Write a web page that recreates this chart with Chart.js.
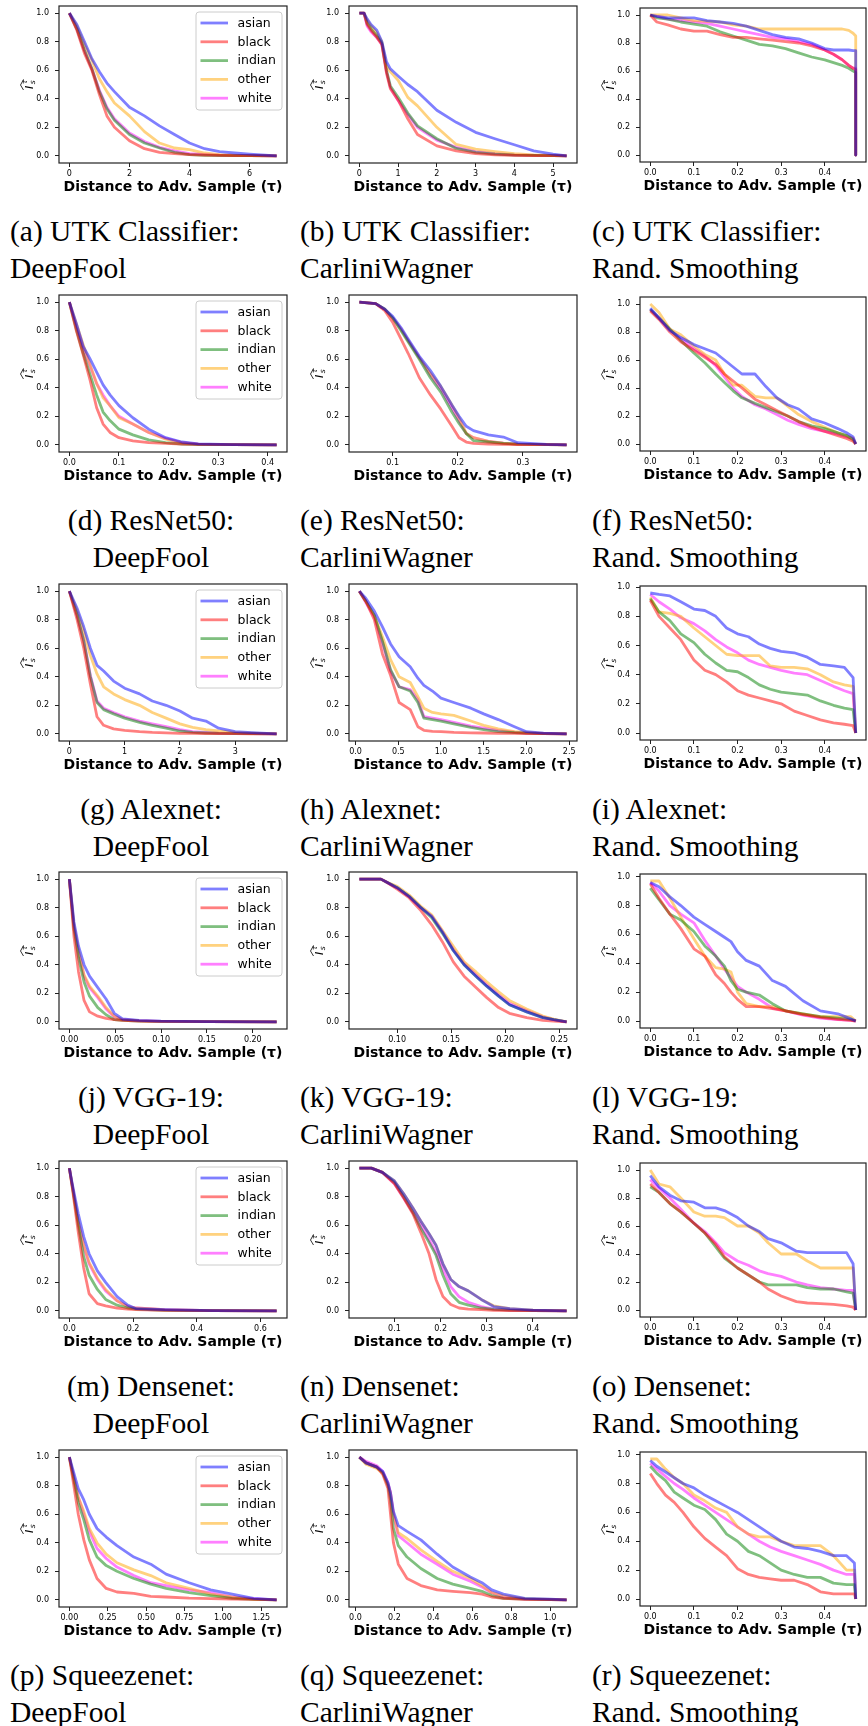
<!DOCTYPE html>
<html>
<head>
<meta charset="utf-8">
<script src="https://cdn.jsdelivr.net/npm/chart.js@4.4.1/dist/chart.umd.min.js"></script>
<style>
  html, body { margin: 0; padding: 0; background: #fff; }
  body { width: 868px; height: 1726px; position: relative; overflow: hidden; }
  canvas { position: absolute; }
  .cap { position: absolute; font-family: 'Liberation Serif', 'Times New Roman', serif;
         font-size: 29.5px; line-height: 30px; color: #000; white-space: nowrap; }
</style>
</head>
<body>
<script>
// ---- groups and colours ----
const groups = ['asian', 'black', 'indian', 'other', 'white'];
const groupColors = ['rgba(0,0,255,0.5)', 'rgba(255,0,0,0.5)', 'rgba(0,128,0,0.5)',
                     'rgba(255,165,0,0.5)', 'rgba(255,0,255,0.5)'];
const yTicks = [0, 0.2, 0.4, 0.6, 0.8, 1.0];
const yTickLabels = ['0.0', '0.2', '0.4', '0.6', '0.8', '1.0'];
const models = ['UTK Classifier', 'ResNet50', 'Alexnet', 'VGG-19', 'Densenet', 'Squeezenet'];
const attacks = ['DeepFool', 'CarliniWagner', 'Rand. Smoothing'];
const xTitle = 'Distance to Adv. Sample (τ)';

// ---- (a) UTK Classifier / DeepFool ----
const xA = [0, 0.25, 0.5, 0.75, 1.0, 1.25, 1.5, 2.0, 2.5, 3.0, 3.5, 4.0, 4.5, 5.0, 5.5, 6.0, 6.9];
const asianA = [1.0, 0.92, 0.80, 0.68, 0.59, 0.51, 0.45, 0.34, 0.28, 0.21, 0.15, 0.09, 0.05, 0.03, 0.02, 0.012, 0.0];
const blackA = [1.0, 0.88, 0.72, 0.60, 0.43, 0.28, 0.20, 0.106, 0.05, 0.025, 0.015, 0.008, 0.005, 0.003, 0.002, 0.001, 0.0];
const indianA = [1.0, 0.89, 0.74, 0.61, 0.45, 0.33, 0.25, 0.15, 0.09, 0.055, 0.025, 0.008, 0.004, 0.002, 0.001, 0.001, 0.0];
const otherA = [1.0, 0.91, 0.78, 0.67, 0.54, 0.45, 0.37, 0.28, 0.17, 0.09, 0.055, 0.043, 0.02, 0.008, 0.004, 0.002, 0.0];
const whiteA = [1.0, 0.89, 0.74, 0.61, 0.46, 0.34, 0.26, 0.16, 0.10, 0.06, 0.035, 0.016, 0.01, 0.005, 0.003, 0.002, 0.0];
const xTicksA = [0, 2, 4, 6];
const xLabelsA = ['0', '2', '4', '6'];

// ---- (b) UTK Classifier / CarliniWagner ----
const xB = [0, 0.12, 0.2, 0.3, 0.45, 0.58, 0.7, 0.8, 1.0, 1.25, 1.5, 2.0, 2.5, 3.0, 3.5, 4.0, 4.5, 5.0, 5.35];
const asianB = [1.0, 1.0, 0.96, 0.92, 0.88, 0.80, 0.66, 0.61, 0.56, 0.50, 0.45, 0.32, 0.235, 0.165, 0.12, 0.078, 0.035, 0.012, 0.0];
const blackB = [1.0, 1.0, 0.92, 0.88, 0.83, 0.78, 0.58, 0.47, 0.39, 0.26, 0.15, 0.07, 0.035, 0.016, 0.007, 0.003, 0.002, 0.001, 0.0];
const indianB = [1.0, 1.0, 0.93, 0.89, 0.84, 0.79, 0.60, 0.49, 0.41, 0.30, 0.21, 0.12, 0.052, 0.024, 0.012, 0.005, 0.003, 0.001, 0.0];
const otherB = [1.0, 1.0, 0.95, 0.91, 0.86, 0.80, 0.63, 0.59, 0.53, 0.41, 0.35, 0.20, 0.08, 0.047, 0.03, 0.016, 0.007, 0.003, 0.0];
const whiteB = [1.0, 1.0, 0.91, 0.87, 0.83, 0.78, 0.59, 0.48, 0.39, 0.29, 0.20, 0.11, 0.06, 0.03, 0.016, 0.007, 0.003, 0.001, 0.0];
const xTicksB = [0, 1, 2, 3, 4, 5];
const xLabelsB = ['0', '1', '2', '3', '4', '5'];

// ---- (c) UTK Classifier / Rand. Smoothing ----
const xC = [0, 0.015, 0.04, 0.07, 0.1, 0.13, 0.16, 0.19, 0.22, 0.25, 0.28, 0.31, 0.34, 0.37, 0.4, 0.42, 0.44, 0.455, 0.465, 0.471, 0.471];
const asianC = [1.0, 0.99, 0.98, 0.98, 0.98, 0.96, 0.95, 0.94, 0.92, 0.89, 0.86, 0.84, 0.83, 0.80, 0.76, 0.75, 0.75, 0.75, 0.745, 0.745, 0];
const blackC = [1.0, 0.95, 0.93, 0.90, 0.885, 0.885, 0.86, 0.84, 0.84, 0.83, 0.82, 0.81, 0.80, 0.78, 0.75, 0.72, 0.68, 0.64, 0.62, 0.61, 0];
const indianC = [1.0, 0.98, 0.97, 0.95, 0.935, 0.92, 0.88, 0.85, 0.82, 0.79, 0.78, 0.76, 0.73, 0.70, 0.68, 0.66, 0.64, 0.62, 0.60, 0.59, 0];
const otherC = [1.0, 1.0, 1.0, 0.98, 0.96, 0.955, 0.95, 0.93, 0.92, 0.90, 0.90, 0.90, 0.90, 0.90, 0.90, 0.90, 0.90, 0.89, 0.87, 0.85, 0];
const whiteC = [1.0, 0.99, 0.97, 0.96, 0.95, 0.94, 0.92, 0.90, 0.88, 0.86, 0.84, 0.83, 0.81, 0.79, 0.75, 0.72, 0.68, 0.64, 0.62, 0.62, 0];
const xTicksC = [0, 0.1, 0.2, 0.3, 0.4];
const xLabelsC = ['0.0', '0.1', '0.2', '0.3', '0.4'];

// ---- (d) ResNet50 / DeepFool ----
const xD = [0, 0.014, 0.028, 0.042, 0.055, 0.068, 0.082, 0.1, 0.128, 0.16, 0.194, 0.227, 0.26, 0.33, 0.418];
const asianD = [1.0, 0.85, 0.69, 0.60, 0.51, 0.42, 0.35, 0.275, 0.19, 0.11, 0.05, 0.02, 0.007, 0.001, 0];
const blackD = [1.0, 0.80, 0.63, 0.45, 0.26, 0.146, 0.087, 0.05, 0.028, 0.016, 0.01, 0.006, 0.003, 0.001, 0];
const indianD = [1.0, 0.81, 0.64, 0.49, 0.35, 0.23, 0.17, 0.11, 0.07, 0.035, 0.016, 0.005, 0.002, 0.001, 0];
const otherD = [1.0, 0.85, 0.70, 0.56, 0.43, 0.33, 0.275, 0.19, 0.146, 0.087, 0.04, 0.016, 0.005, 0.001, 0];
const whiteD = [1.0, 0.83, 0.675, 0.55, 0.43, 0.35, 0.275, 0.20, 0.146, 0.087, 0.045, 0.016, 0.005, 0.001, 0];
const xTicksD = [0, 0.1, 0.2, 0.3, 0.4];
const xLabelsD = ['0.0', '0.1', '0.2', '0.3', '0.4'];

// ---- (e) ResNet50 / CarliniWagner ----
const xE = [0.049, 0.074, 0.088, 0.1, 0.113, 0.124, 0.141, 0.158, 0.174, 0.191, 0.202, 0.213, 0.224, 0.247, 0.27, 0.292, 0.336, 0.367];
const asianE = [1.0, 0.99, 0.95, 0.90, 0.82, 0.74, 0.62, 0.52, 0.41, 0.28, 0.20, 0.13, 0.10, 0.07, 0.055, 0.015, 0.003, 0];
const blackE = [1.0, 0.99, 0.94, 0.86, 0.74, 0.64, 0.47, 0.35, 0.25, 0.13, 0.05, 0.02, 0.01, 0.006, 0.004, 0.002, 0.001, 0];
const indianE = [1.0, 0.99, 0.95, 0.89, 0.80, 0.72, 0.60, 0.47, 0.37, 0.23, 0.15, 0.08, 0.03, 0.02, 0.01, 0.005, 0.002, 0];
const otherE = [1.0, 0.99, 0.95, 0.89, 0.81, 0.73, 0.61, 0.50, 0.41, 0.28, 0.19, 0.08, 0.05, 0.025, 0.012, 0.005, 0.003, 0];
const whiteE = [1.0, 0.99, 0.95, 0.89, 0.81, 0.73, 0.61, 0.49, 0.39, 0.26, 0.17, 0.08, 0.05, 0.025, 0.012, 0.005, 0.003, 0];
const xTicksE = [0.1, 0.2, 0.3];
const xLabelsE = ['0.1', '0.2', '0.3'];

// ---- (f) ResNet50 / Rand. Smoothing ----
const xF = [0, 0.02, 0.045, 0.07, 0.1, 0.125, 0.15, 0.17, 0.19, 0.21, 0.24, 0.265, 0.29, 0.315, 0.34, 0.37, 0.4, 0.43, 0.45, 0.465, 0.471];
const asianF = [0.97, 0.90, 0.81, 0.76, 0.71, 0.68, 0.65, 0.60, 0.55, 0.50, 0.50, 0.41, 0.33, 0.28, 0.25, 0.18, 0.15, 0.11, 0.08, 0.05, 0];
const blackF = [0.95, 0.89, 0.80, 0.73, 0.67, 0.62, 0.57, 0.50, 0.45, 0.40, 0.32, 0.28, 0.24, 0.20, 0.16, 0.12, 0.09, 0.06, 0.04, 0.02, 0];
const indianF = [0.96, 0.90, 0.82, 0.74, 0.65, 0.58, 0.50, 0.44, 0.38, 0.33, 0.29, 0.26, 0.23, 0.20, 0.16, 0.13, 0.11, 0.08, 0.06, 0.03, 0];
const otherF = [1.0, 0.94, 0.82, 0.78, 0.70, 0.64, 0.60, 0.50, 0.42, 0.42, 0.34, 0.33, 0.33, 0.27, 0.21, 0.16, 0.12, 0.08, 0.06, 0.04, 0];
const whiteF = [0.96, 0.90, 0.82, 0.75, 0.68, 0.63, 0.56, 0.48, 0.40, 0.34, 0.28, 0.25, 0.21, 0.17, 0.14, 0.11, 0.09, 0.07, 0.05, 0.04, 0];
const xTicksF = [0, 0.1, 0.2, 0.3, 0.4];
const xLabelsF = ['0.0', '0.1', '0.2', '0.3', '0.4'];

// ---- (g) Alexnet / DeepFool ----
const xG = [0, 0.14, 0.26, 0.38, 0.5, 0.62, 0.8, 1.0, 1.27, 1.5, 1.75, 2.0, 2.23, 2.47, 2.7, 3.0, 3.3, 3.75];
const asianG = [1.0, 0.88, 0.75, 0.60, 0.48, 0.44, 0.37, 0.32, 0.28, 0.23, 0.20, 0.16, 0.11, 0.09, 0.04, 0.015, 0.008, 0];
const blackG = [1.0, 0.80, 0.60, 0.35, 0.12, 0.06, 0.035, 0.025, 0.015, 0.01, 0.007, 0.004, 0.003, 0.002, 0.001, 0.001, 0, 0];
const indianG = [1.0, 0.83, 0.65, 0.40, 0.22, 0.17, 0.14, 0.11, 0.08, 0.06, 0.04, 0.02, 0.01, 0.006, 0.003, 0.002, 0.001, 0];
const otherG = [1.0, 0.86, 0.72, 0.55, 0.42, 0.33, 0.28, 0.24, 0.20, 0.15, 0.11, 0.07, 0.045, 0.03, 0.02, 0.01, 0.005, 0];
const whiteG = [1.0, 0.83, 0.66, 0.41, 0.23, 0.18, 0.15, 0.12, 0.09, 0.07, 0.05, 0.03, 0.015, 0.01, 0.005, 0.003, 0.001, 0];
const xTicksG = [0, 1, 2, 3];
const xLabelsG = ['0', '1', '2', '3'];

// ---- (h) Alexnet / CarliniWagner ----
const xH = [0.045, 0.12, 0.22, 0.315, 0.41, 0.51, 0.64, 0.73, 0.8, 0.9, 1.0, 1.15, 1.35, 1.5, 1.67, 1.86, 2.0, 2.2, 2.47];
const asianH = [1.0, 0.95, 0.86, 0.75, 0.63, 0.54, 0.47, 0.39, 0.34, 0.30, 0.25, 0.22, 0.18, 0.14, 0.10, 0.05, 0.015, 0.005, 0];
const blackH = [1.0, 0.93, 0.80, 0.56, 0.41, 0.22, 0.17, 0.05, 0.025, 0.018, 0.015, 0.01, 0.007, 0.006, 0.004, 0.003, 0.002, 0.001, 0];
const indianH = [1.0, 0.93, 0.83, 0.65, 0.45, 0.33, 0.30, 0.22, 0.11, 0.10, 0.09, 0.07, 0.045, 0.03, 0.015, 0.008, 0.005, 0.002, 0];
const otherH = [1.0, 0.93, 0.83, 0.68, 0.52, 0.40, 0.36, 0.26, 0.18, 0.15, 0.14, 0.13, 0.09, 0.06, 0.035, 0.015, 0.01, 0.004, 0];
const whiteH = [1.0, 0.92, 0.82, 0.64, 0.44, 0.33, 0.31, 0.24, 0.12, 0.11, 0.10, 0.08, 0.055, 0.04, 0.025, 0.012, 0.006, 0.002, 0];
const xTicksH = [0, 0.5, 1.0, 1.5, 2.0, 2.5];
const xLabelsH = ['0.0', '0.5', '1.0', '1.5', '2.0', '2.5'];

// ---- (i) Alexnet / Rand. Smoothing ----
const xI = [0, 0.02, 0.045, 0.07, 0.1, 0.125, 0.15, 0.175, 0.2, 0.225, 0.25, 0.275, 0.3, 0.33, 0.36, 0.39, 0.42, 0.445, 0.465, 0.471];
const asianI = [0.96, 0.95, 0.94, 0.90, 0.85, 0.84, 0.80, 0.72, 0.68, 0.66, 0.61, 0.58, 0.56, 0.55, 0.52, 0.47, 0.46, 0.45, 0.38, 0];
const blackI = [0.91, 0.80, 0.72, 0.64, 0.50, 0.43, 0.40, 0.35, 0.29, 0.26, 0.24, 0.22, 0.20, 0.15, 0.12, 0.09, 0.07, 0.06, 0.05, 0];
const indianI = [0.92, 0.83, 0.77, 0.68, 0.62, 0.54, 0.48, 0.43, 0.42, 0.38, 0.33, 0.30, 0.28, 0.27, 0.26, 0.22, 0.19, 0.17, 0.16, 0];
const otherI = [0.93, 0.83, 0.82, 0.80, 0.72, 0.66, 0.60, 0.54, 0.53, 0.53, 0.53, 0.46, 0.45, 0.45, 0.44, 0.40, 0.35, 0.33, 0.32, 0];
const whiteI = [0.95, 0.90, 0.85, 0.79, 0.75, 0.70, 0.64, 0.59, 0.55, 0.50, 0.47, 0.45, 0.43, 0.41, 0.40, 0.36, 0.32, 0.29, 0.27, 0];
const xTicksI = [0, 0.1, 0.2, 0.3, 0.4];
const xLabelsI = ['0.0', '0.1', '0.2', '0.3', '0.4'];

// ---- (j) VGG-19 / DeepFool ----
const xJ = [0, 0.005, 0.01, 0.016, 0.022, 0.031, 0.04, 0.049, 0.058, 0.076, 0.1, 0.15, 0.226];
const asianJ = [1.0, 0.70, 0.53, 0.40, 0.32, 0.24, 0.16, 0.06, 0.02, 0.01, 0.005, 0.002, 0];
const blackJ = [1.0, 0.60, 0.35, 0.15, 0.07, 0.04, 0.025, 0.015, 0.01, 0.005, 0.003, 0.001, 0];
const indianJ = [1.0, 0.65, 0.45, 0.28, 0.18, 0.10, 0.05, 0.015, 0.01, 0.005, 0.003, 0.001, 0];
const otherJ = [1.0, 0.68, 0.50, 0.33, 0.25, 0.18, 0.10, 0.04, 0.015, 0.008, 0.004, 0.001, 0];
const whiteJ = [1.0, 0.67, 0.48, 0.32, 0.24, 0.17, 0.09, 0.035, 0.015, 0.008, 0.004, 0.001, 0];
const xTicksJ = [0, 0.05, 0.1, 0.15, 0.2];
const xLabelsJ = ['0.00', '0.05', '0.10', '0.15', '0.20'];

// ---- (k) VGG-19 / CarliniWagner ----
const xK = [0.065, 0.085, 0.09, 0.1, 0.111, 0.122, 0.132, 0.142, 0.152, 0.162, 0.173, 0.183, 0.194, 0.204, 0.22, 0.235, 0.245, 0.257];
const asianK = [1.0, 1.0, 0.98, 0.94, 0.88, 0.80, 0.74, 0.63, 0.50, 0.40, 0.32, 0.25, 0.18, 0.12, 0.07, 0.03, 0.015, 0];
const blackK = [1.0, 1.0, 0.98, 0.93, 0.87, 0.78, 0.68, 0.56, 0.42, 0.32, 0.24, 0.17, 0.10, 0.06, 0.03, 0.01, 0.005, 0];
const indianK = [1.0, 1.0, 0.98, 0.94, 0.88, 0.80, 0.73, 0.62, 0.50, 0.40, 0.32, 0.25, 0.18, 0.12, 0.07, 0.03, 0.015, 0];
const otherK = [1.0, 1.0, 0.98, 0.95, 0.89, 0.81, 0.75, 0.64, 0.53, 0.42, 0.35, 0.28, 0.21, 0.15, 0.09, 0.04, 0.02, 0];
const whiteK = [1.0, 1.0, 0.98, 0.94, 0.88, 0.80, 0.74, 0.63, 0.51, 0.41, 0.33, 0.26, 0.19, 0.13, 0.08, 0.035, 0.015, 0];
const xTicksK = [0.1, 0.15, 0.2, 0.25];
const xLabelsK = ['0.10', '0.15', '0.20', '0.25'];

// ---- (l) VGG-19 / Rand. Smoothing ----
const xL = [0, 0.02, 0.045, 0.07, 0.1, 0.125, 0.15, 0.17, 0.185, 0.2, 0.22, 0.25, 0.28, 0.31, 0.35, 0.39, 0.43, 0.46, 0.471];
const asianL = [0.96, 0.93, 0.86, 0.80, 0.72, 0.67, 0.62, 0.58, 0.55, 0.48, 0.42, 0.38, 0.28, 0.24, 0.14, 0.07, 0.05, 0.015, 0];
const blackL = [0.95, 0.85, 0.74, 0.64, 0.50, 0.45, 0.32, 0.26, 0.20, 0.15, 0.10, 0.10, 0.085, 0.07, 0.045, 0.025, 0.012, 0.005, 0];
const indianL = [0.92, 0.84, 0.74, 0.70, 0.62, 0.52, 0.45, 0.38, 0.28, 0.22, 0.20, 0.18, 0.12, 0.07, 0.05, 0.03, 0.02, 0.01, 0];
const otherL = [0.97, 0.97, 0.85, 0.72, 0.57, 0.45, 0.37, 0.36, 0.34, 0.20, 0.12, 0.10, 0.10, 0.07, 0.05, 0.03, 0.03, 0.03, 0];
const whiteL = [0.96, 0.90, 0.80, 0.74, 0.68, 0.56, 0.45, 0.36, 0.30, 0.24, 0.20, 0.15, 0.09, 0.07, 0.04, 0.02, 0.01, 0.005, 0];
const xTicksL = [0, 0.1, 0.2, 0.3, 0.4];
const xLabelsL = ['0.0', '0.1', '0.2', '0.3', '0.4'];

// ---- (m) Densenet / DeepFool ----
const xM = [0, 0.01, 0.028, 0.045, 0.062, 0.088, 0.114, 0.15, 0.183, 0.21, 0.3, 0.45, 0.651];
const asianM = [1.0, 0.88, 0.68, 0.52, 0.40, 0.28, 0.20, 0.10, 0.04, 0.015, 0.008, 0.002, 0];
const blackM = [1.0, 0.85, 0.55, 0.30, 0.12, 0.05, 0.035, 0.02, 0.012, 0.008, 0.003, 0.001, 0];
const indianM = [1.0, 0.86, 0.60, 0.38, 0.25, 0.15, 0.08, 0.04, 0.02, 0.012, 0.004, 0.001, 0];
const otherM = [1.0, 0.87, 0.63, 0.46, 0.34, 0.23, 0.15, 0.07, 0.03, 0.02, 0.008, 0.002, 0];
const whiteM = [1.0, 0.87, 0.62, 0.45, 0.33, 0.22, 0.14, 0.07, 0.03, 0.02, 0.008, 0.002, 0];
const xTicksM = [0, 0.2, 0.4, 0.6];
const xLabelsM = ['0.0', '0.2', '0.4', '0.6'];

// ---- (n) Densenet / CarliniWagner ----
const xN = [0.024, 0.05, 0.074, 0.1, 0.12, 0.14, 0.157, 0.175, 0.19, 0.205, 0.222, 0.24, 0.26, 0.288, 0.315, 0.35, 0.4, 0.473];
const asianN = [1.0, 1.0, 0.97, 0.91, 0.82, 0.72, 0.63, 0.54, 0.46, 0.33, 0.22, 0.17, 0.14, 0.08, 0.03, 0.015, 0.005, 0];
const blackN = [1.0, 1.0, 0.97, 0.89, 0.79, 0.68, 0.55, 0.40, 0.22, 0.10, 0.045, 0.02, 0.012, 0.008, 0.004, 0.002, 0.001, 0];
const indianN = [1.0, 1.0, 0.97, 0.90, 0.80, 0.69, 0.58, 0.48, 0.39, 0.25, 0.12, 0.06, 0.04, 0.02, 0.01, 0.005, 0.002, 0];
const otherN = [1.0, 1.0, 0.97, 0.91, 0.82, 0.72, 0.63, 0.54, 0.46, 0.33, 0.22, 0.17, 0.14, 0.08, 0.035, 0.015, 0.005, 0];
const whiteN = [1.0, 1.0, 0.97, 0.89, 0.79, 0.69, 0.60, 0.50, 0.41, 0.29, 0.17, 0.10, 0.06, 0.03, 0.012, 0.006, 0.002, 0];
const xTicksN = [0.1, 0.2, 0.3, 0.4];
const xLabelsN = ['0.1', '0.2', '0.3', '0.4'];

// ---- (o) Densenet / Rand. Smoothing ----
const xO = [0, 0.02, 0.045, 0.07, 0.1, 0.125, 0.15, 0.17, 0.2, 0.225, 0.25, 0.27, 0.3, 0.335, 0.36, 0.39, 0.42, 0.45, 0.465, 0.471];
const asianO = [0.96, 0.88, 0.82, 0.78, 0.77, 0.73, 0.73, 0.71, 0.66, 0.60, 0.56, 0.51, 0.48, 0.42, 0.41, 0.41, 0.41, 0.41, 0.33, 0];
const blackO = [0.90, 0.84, 0.76, 0.70, 0.62, 0.55, 0.47, 0.38, 0.30, 0.25, 0.20, 0.15, 0.10, 0.06, 0.05, 0.045, 0.04, 0.03, 0.02, 0];
const indianO = [0.88, 0.84, 0.76, 0.70, 0.62, 0.55, 0.45, 0.37, 0.30, 0.25, 0.20, 0.18, 0.18, 0.18, 0.16, 0.15, 0.15, 0.13, 0.12, 0];
const otherO = [1.0, 0.90, 0.88, 0.80, 0.70, 0.67, 0.67, 0.66, 0.60, 0.60, 0.55, 0.48, 0.40, 0.40, 0.35, 0.30, 0.30, 0.30, 0.30, 0];
const whiteO = [0.93, 0.87, 0.80, 0.72, 0.62, 0.56, 0.48, 0.41, 0.35, 0.32, 0.28, 0.26, 0.24, 0.20, 0.18, 0.16, 0.15, 0.14, 0.14, 0];
const xTicksO = [0, 0.1, 0.2, 0.3, 0.4];
const xLabelsO = ['0.0', '0.1', '0.2', '0.3', '0.4'];

// ---- (p) Squeezenet / DeepFool ----
const xP = [0, 0.058, 0.094, 0.13, 0.18, 0.24, 0.31, 0.42, 0.53, 0.63, 0.78, 0.92, 1.06, 1.2, 1.35];
const asianP = [1.0, 0.78, 0.70, 0.60, 0.50, 0.44, 0.38, 0.30, 0.25, 0.18, 0.12, 0.07, 0.04, 0.01, 0];
const blackP = [1.0, 0.60, 0.42, 0.28, 0.15, 0.08, 0.055, 0.045, 0.025, 0.02, 0.012, 0.009, 0.006, 0.003, 0];
const indianP = [1.0, 0.68, 0.56, 0.42, 0.30, 0.24, 0.20, 0.15, 0.11, 0.08, 0.05, 0.03, 0.01, 0.004, 0];
const otherP = [1.0, 0.72, 0.62, 0.50, 0.40, 0.32, 0.26, 0.21, 0.17, 0.12, 0.08, 0.04, 0.02, 0.005, 0];
const whiteP = [1.0, 0.72, 0.60, 0.48, 0.36, 0.29, 0.23, 0.17, 0.12, 0.10, 0.07, 0.05, 0.02, 0.008, 0];
const xTicksP = [0, 0.25, 0.5, 0.75, 1.0, 1.25];
const xLabelsP = ['0.00', '0.25', '0.50', '0.75', '1.00', '1.25'];

// ---- (q) Squeezenet / CarliniWagner ----
const xQ = [0.02, 0.054, 0.11, 0.14, 0.167, 0.18, 0.195, 0.22, 0.265, 0.336, 0.42, 0.5, 0.59, 0.65, 0.7, 0.76, 0.87, 1.0, 1.085];
const asianQ = [1.0, 0.96, 0.93, 0.90, 0.82, 0.75, 0.62, 0.52, 0.48, 0.42, 0.32, 0.23, 0.16, 0.12, 0.07, 0.04, 0.01, 0.005, 0];
const blackQ = [1.0, 0.96, 0.93, 0.88, 0.78, 0.60, 0.40, 0.25, 0.15, 0.10, 0.07, 0.06, 0.05, 0.04, 0.02, 0.01, 0.003, 0.001, 0];
const indianQ = [1.0, 0.96, 0.93, 0.89, 0.80, 0.70, 0.50, 0.38, 0.30, 0.22, 0.15, 0.11, 0.08, 0.06, 0.03, 0.01, 0.005, 0.002, 0];
const otherQ = [1.0, 0.95, 0.92, 0.89, 0.81, 0.75, 0.60, 0.47, 0.43, 0.35, 0.27, 0.20, 0.15, 0.10, 0.05, 0.03, 0.008, 0.003, 0];
const whiteQ = [1.0, 0.97, 0.94, 0.90, 0.82, 0.75, 0.60, 0.45, 0.40, 0.32, 0.25, 0.18, 0.13, 0.09, 0.05, 0.02, 0.005, 0.002, 0];
const xTicksQ = [0, 0.2, 0.4, 0.6, 0.8, 1.0];
const xLabelsQ = ['0.0', '0.2', '0.4', '0.6', '0.8', '1.0'];

// ---- (r) Squeezenet / Rand. Smoothing ----
const xR = [0, 0.015, 0.035, 0.055, 0.075, 0.1, 0.125, 0.15, 0.175, 0.2, 0.225, 0.25, 0.275, 0.3, 0.33, 0.36, 0.39, 0.42, 0.45, 0.468, 0.471];
const asianR = [0.96, 0.92, 0.88, 0.84, 0.80, 0.77, 0.72, 0.68, 0.64, 0.60, 0.55, 0.50, 0.45, 0.40, 0.36, 0.35, 0.33, 0.30, 0.30, 0.25, 0];
const blackR = [0.87, 0.80, 0.72, 0.67, 0.60, 0.50, 0.42, 0.36, 0.30, 0.21, 0.17, 0.15, 0.14, 0.13, 0.13, 0.10, 0.05, 0.035, 0.035, 0.035, 0];
const indianR = [0.92, 0.87, 0.82, 0.74, 0.70, 0.65, 0.62, 0.55, 0.45, 0.40, 0.33, 0.30, 0.25, 0.20, 0.17, 0.15, 0.15, 0.11, 0.10, 0.10, 0];
const otherR = [0.97, 0.97, 0.90, 0.84, 0.80, 0.72, 0.68, 0.63, 0.60, 0.50, 0.45, 0.43, 0.43, 0.40, 0.37, 0.37, 0.37, 0.30, 0.20, 0.20, 0];
const whiteR = [0.94, 0.90, 0.85, 0.80, 0.76, 0.70, 0.65, 0.60, 0.55, 0.50, 0.45, 0.40, 0.36, 0.33, 0.30, 0.27, 0.24, 0.20, 0.17, 0.17, 0];
const xTicksR = [0, 0.1, 0.2, 0.3, 0.4];
const xLabelsR = ['0.0', '0.1', '0.2', '0.3', '0.4'];

// ---- panel table (row-major, 3 columns) ----
const panels = [
  { tag: 'a', x: xA, s: [asianA, blackA, indianA, otherA, whiteA], t: xTicksA, l: xLabelsA },
  { tag: 'b', x: xB, s: [asianB, blackB, indianB, otherB, whiteB], t: xTicksB, l: xLabelsB },
  { tag: 'c', x: xC, s: [asianC, blackC, indianC, otherC, whiteC], t: xTicksC, l: xLabelsC },
  { tag: 'd', x: xD, s: [asianD, blackD, indianD, otherD, whiteD], t: xTicksD, l: xLabelsD },
  { tag: 'e', x: xE, s: [asianE, blackE, indianE, otherE, whiteE], t: xTicksE, l: xLabelsE },
  { tag: 'f', x: xF, s: [asianF, blackF, indianF, otherF, whiteF], t: xTicksF, l: xLabelsF },
  { tag: 'g', x: xG, s: [asianG, blackG, indianG, otherG, whiteG], t: xTicksG, l: xLabelsG },
  { tag: 'h', x: xH, s: [asianH, blackH, indianH, otherH, whiteH], t: xTicksH, l: xLabelsH },
  { tag: 'i', x: xI, s: [asianI, blackI, indianI, otherI, whiteI], t: xTicksI, l: xLabelsI },
  { tag: 'j', x: xJ, s: [asianJ, blackJ, indianJ, otherJ, whiteJ], t: xTicksJ, l: xLabelsJ },
  { tag: 'k', x: xK, s: [asianK, blackK, indianK, otherK, whiteK], t: xTicksK, l: xLabelsK },
  { tag: 'l', x: xL, s: [asianL, blackL, indianL, otherL, whiteL], t: xTicksL, l: xLabelsL },
  { tag: 'm', x: xM, s: [asianM, blackM, indianM, otherM, whiteM], t: xTicksM, l: xLabelsM },
  { tag: 'n', x: xN, s: [asianN, blackN, indianN, otherN, whiteN], t: xTicksN, l: xLabelsN },
  { tag: 'o', x: xO, s: [asianO, blackO, indianO, otherO, whiteO], t: xTicksO, l: xLabelsO },
  { tag: 'p', x: xP, s: [asianP, blackP, indianP, otherP, whiteP], t: xTicksP, l: xLabelsP },
  { tag: 'q', x: xQ, s: [asianQ, blackQ, indianQ, otherQ, whiteQ], t: xTicksQ, l: xLabelsQ },
  { tag: 'r', x: xR, s: [asianR, blackR, indianR, otherR, whiteR], t: xTicksR, l: xLabelsR }
];

// ---- page geometry ----
const ROW_PITCH = 288.8;
const FRAME_X = [[59, 287], [349, 577], [640, 866]];
const FRAME_TOP = [6, 6, 8];
const FRAME_BOTTOM = [163, 163, 162];
const Y_AXIS_W = 59, X_AXIS_H = 33, TOP_PAD = 14;
const CAP_LEFT = [10, 300, 592];
const CAP_CENTER_COL0 = 151;
const CAP_BASE1 = 240.7, CAP_BASE2 = 277.7;

// axis limits with 5% breathing room around the plotted range
function padRange(lo, hi) { const m = (hi - lo) * 0.05; return [lo - m, hi + m]; }

// frame, legend and the hatted y label
const panelDecor = {
  id: 'panelDecor',
  afterDatasetsDraw(chart) {
    const { ctx, chartArea: a } = chart;
    ctx.save();
    ctx.strokeStyle = '#222';
    ctx.lineWidth = 1.2;
    ctx.strokeRect(a.left, a.top, a.right - a.left, a.bottom - a.top);
    ctx.restore();
  },
  afterDraw(chart, args, opts) {
    const { ctx, chartArea: a } = chart;
    // y label: hat over I with superscript tau and subscript s, rotated
    ctx.save();
    ctx.translate(29, (a.top + a.bottom) / 2);
    ctx.rotate(-Math.PI / 2);
    ctx.fillStyle = '#000';
    ctx.textBaseline = 'alphabetic';
    ctx.textAlign = 'left';
    ctx.font = 'italic 11px "DejaVu Sans"';
    ctx.fillText('I', -4.5, 3.5);
    ctx.font = 'italic 7.5px "DejaVu Sans"';
    ctx.fillText('τ', 0.3, -2.5);
    ctx.fillText('s', 0.3, 6);
    ctx.beginPath();
    ctx.moveTo(-5.5, -5.5);
    ctx.lineTo(-0.5, -8.5);
    ctx.lineTo(5, -5.5);
    ctx.lineWidth = 0.8;
    ctx.strokeStyle = '#000';
    ctx.stroke();
    ctx.restore();

    if (!opts.legend) return;
    const w = 86, h = 98;
    const x0 = a.right - 5 - w, y0 = a.top + 6;
    const r = 3;
    ctx.save();
    ctx.beginPath();
    ctx.moveTo(x0 + r, y0);
    ctx.lineTo(x0 + w - r, y0);
    ctx.arcTo(x0 + w, y0, x0 + w, y0 + r, r);
    ctx.lineTo(x0 + w, y0 + h - r);
    ctx.arcTo(x0 + w, y0 + h, x0 + w - r, y0 + h, r);
    ctx.lineTo(x0 + r, y0 + h);
    ctx.arcTo(x0, y0 + h, x0, y0 + h - r, r);
    ctx.lineTo(x0, y0 + r);
    ctx.arcTo(x0, y0, x0 + r, y0, r);
    ctx.closePath();
    ctx.fillStyle = 'rgba(255,255,255,0.8)';
    ctx.fill();
    ctx.strokeStyle = '#cccccc';
    ctx.lineWidth = 1;
    ctx.stroke();
    ctx.font = '12.5px "DejaVu Sans"';
    ctx.textBaseline = 'middle';
    ctx.textAlign = 'left';
    chart.data.datasets.forEach((ds, i) => {
      const y = y0 + 11 + i * 18.8;
      ctx.beginPath();
      ctx.moveTo(x0 + 4.5, y);
      ctx.lineTo(x0 + 32, y);
      ctx.strokeStyle = ds.borderColor;
      ctx.lineWidth = ds.borderWidth;
      ctx.stroke();
      ctx.fillStyle = '#000';
      ctx.fillText(ds.label, x0 + 41.5, y + 0.5);
    });
    ctx.restore();
  }
};

panels.forEach((p, idx) => {
  const row = Math.floor(idx / 3), col = idx % 3;
  const base = Math.round(row * ROW_PITCH);
  const fl = FRAME_X[col][0], fr = FRAME_X[col][1];
  const ft = base + FRAME_TOP[col], fb = base + FRAME_BOTTOM[col];
  const cLeft = fl - Y_AXIS_W, cTop = ft - TOP_PAD;
  const cW = fr - cLeft + 2, cH = fb - cTop + X_AXIS_H;

  const canvas = document.createElement('canvas');
  canvas.width = cW; canvas.height = cH;
  canvas.style.left = cLeft + 'px'; canvas.style.top = cTop + 'px';
  canvas.style.width = cW + 'px'; canvas.style.height = cH + 'px';
  document.body.appendChild(canvas);

  const [xMin, xMax] = padRange(Math.min(...p.x), Math.max(...p.x));
  const allY = p.s.flat();
  const [yMin, yMax] = padRange(Math.min(...allY), Math.max(...allY));

  const tickFont = { family: 'DejaVu Sans', size: 8 };
  const grid = { display: true, drawOnChartArea: false, drawTicks: true, tickLength: 4,
                 tickColor: '#222', tickWidth: 1 };

  new Chart(canvas, {
    type: 'line',
    data: {
      datasets: groups.map((g, i) => ({
        label: g,
        data: p.x.map((x, j) => ({ x: x, y: p.s[i][j] })),
        borderColor: groupColors[i],
        borderWidth: 2.8,
        pointRadius: 0,
        tension: 0,
        fill: false,
        borderJoinStyle: 'round'
      }))
    },
    options: {
      responsive: false,
      animation: false,
      devicePixelRatio: 1,
      events: [],
      layout: { padding: { top: TOP_PAD, right: 2, left: 0, bottom: 0 } },
      plugins: {
        legend: { display: false },
        tooltip: { enabled: false },
        panelDecor: { legend: col === 0 }
      },
      scales: {
        x: {
          type: 'linear', min: xMin, max: xMax,
          afterBuildTicks: (s) => { s.ticks = p.t.map(v => ({ value: v })); },
          afterFit: (s) => { s.height = X_AXIS_H; },
          grid: grid,
          border: { display: false },
          ticks: { font: tickFont, color: '#000', padding: 2, maxRotation: 0, autoSkip: false,
                   callback: (v, i) => p.l[i] },
          title: { display: true, text: xTitle, color: '#000',
                   font: { family: 'DejaVu Sans', size: 14, weight: 'bold' },
                   padding: { top: 0, bottom: 0 } }
        },
        y: {
          type: 'linear', min: yMin, max: yMax,
          afterBuildTicks: (s) => { s.ticks = yTicks.map(v => ({ value: v })); },
          afterFit: (s) => { s.width = Y_AXIS_W; },
          grid: grid,
          border: { display: false },
          ticks: { font: tickFont, color: '#000', padding: 6, autoSkip: false,
                   callback: (v, i) => yTickLabels[i] }
        }
      }
    },
    plugins: [panelDecor]
  });

  // sub-caption, two lines
  const lines = ['(' + p.tag + ') ' + models[row] + ':', attacks[col]];
  lines.forEach((txt, k) => {
    const d = document.createElement('div');
    d.className = 'cap';
    d.textContent = txt;
    const baseline = base + (k === 0 ? CAP_BASE1 : CAP_BASE2);
    d.style.top = (baseline - 24.9) + 'px';
    if (col === 0 && row >= 1 && row <= 4) {
      d.style.left = '0px';
      d.style.width = (2 * CAP_CENTER_COL0) + 'px';
      d.style.textAlign = 'center';
    } else {
      d.style.left = CAP_LEFT[col] + 'px';
    }
    document.body.appendChild(d);
  });
});
</script>
</body>
</html>
